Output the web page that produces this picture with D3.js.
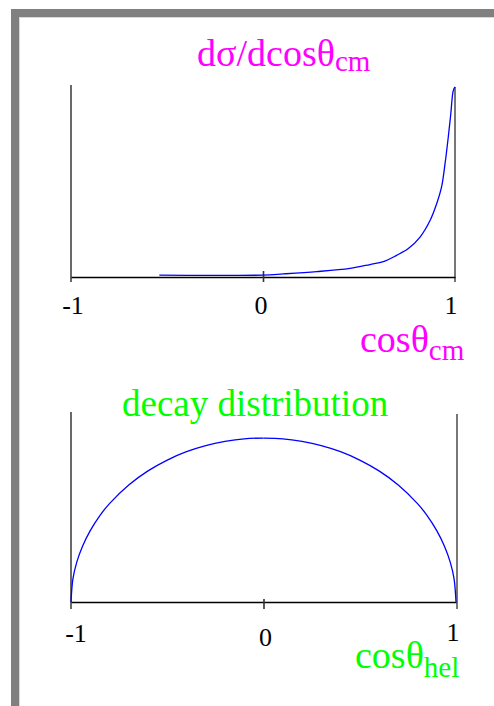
<!DOCTYPE html>
<html>
<head>
<meta charset="utf-8">
<script src="https://cdn.jsdelivr.net/npm/d3@7/dist/d3.min.js"></script>
<style>
  html, body { margin: 0; padding: 0; background: #fff; }
  svg { display: block; }
  text { font-family: "Liberation Serif", "Times New Roman", serif; }
</style>
</head>
<body>
<svg id="chart" width="494" height="706"></svg>
<script>
// Production angular distribution dσ/dcosθ_cm (normalised to its peak)
const prodCos = [-0.54, -0.3, 0.0, 0.106, 0.28, 0.453, 0.557, 0.627, 0.696, 0.757, 0.818, 0.87, 0.904, 0.93, 0.948, 0.965, 0.978, 0.991, 1.0];
const prodVal = [0.010, 0.008, 0.010, 0.016, 0.028, 0.045, 0.065, 0.080, 0.113, 0.148, 0.208, 0.294, 0.380, 0.469, 0.589, 0.729, 0.849, 0.971, 0.990];

// Decay distribution in the helicity frame (two halves)
const decayCos = [-1.0, -0.99, -0.97, -0.94, -0.9, -0.85, -0.8, -0.7, -0.6, -0.5, -0.4, -0.3, -0.2, -0.1, 0.0];
const decayVal = [0.000, 0.122, 0.210, 0.294, 0.376, 0.455, 0.518, 0.616, 0.690, 0.747, 0.791, 0.823, 0.845, 0.859, 0.863];
const decayCos2 = [0.0, 0.1, 0.2, 0.3, 0.4, 0.5, 0.6, 0.7, 0.8, 0.85, 0.9, 0.94, 0.97, 0.99, 1.0];
const decayVal2 = [0.863, 0.859, 0.845, 0.823, 0.791, 0.747, 0.690, 0.616, 0.518, 0.455, 0.376, 0.294, 0.210, 0.122, 0.000];

const tickValues = [-1, 0, 1];
const tickLabels = ["-1", "0", "1"];

const svg = d3.select("#chart");

// frame
svg.append("rect").attr("x", 11).attr("y", 9).attr("width", 483).attr("height", 8).attr("fill", "#808080");
svg.append("rect").attr("x", 11).attr("y", 9).attr("width", 8).attr("height", 697).attr("fill", "#808080");
svg.append("rect").attr("x", 19).attr("y", 17).attr("width", 1).attr("height", 689).attr("fill", "#d8d8d8");
svg.append("rect").attr("x", 19).attr("y", 17).attr("width", 475).attr("height", 1).attr("fill", "#d8d8d8");

function panel(opts) {
  const g = svg.append("g");
  const x = d3.scaleLinear().domain([-1, 1]).range([opts.x0, opts.x1]);
  const y = d3.scaleLinear().domain([0, 1]).range([opts.yBase, opts.yTop]);

  // vertical frame lines
  g.append("line").attr("x1", opts.x0).attr("x2", opts.x0)
    .attr("y1", opts.leftTop).attr("y2", opts.yBase + opts.below)
    .attr("stroke", "#444").attr("stroke-width", 1.6);
  g.append("line").attr("x1", opts.x1Axis).attr("x2", opts.x1Axis)
    .attr("y1", opts.rightTop).attr("y2", opts.yBase + opts.below)
    .attr("stroke", "#555").attr("stroke-width", 1.6);

  // horizontal axis with a centre tick
  const axis = d3.axisBottom(x).tickValues([0]).tickSizeInner(0).tickSizeOuter(0).tickFormat("");
  const ag = g.append("g").attr("transform", `translate(0,${opts.yBase})`).call(axis);
  ag.select(".domain").attr("stroke", "#000").attr("stroke-width", 1.6);
  ag.selectAll(".tick line").attr("y1", opts.tickUp).attr("y2", opts.tickDown)
    .attr("stroke", "#333").attr("stroke-width", 1.6);

  // tick labels
  g.selectAll("text.tl").data(tickValues).join("text")
    .attr("class", "tl")
    .attr("x", (d, i) => x(d) + opts.labelDx[i])
    .attr("y", (d, i) => opts.labelY[i])
    .attr("text-anchor", "middle")
    .attr("font-size", 26)
    .attr("fill", "#000")
    .text((d, i) => tickLabels[i]);

  return { g, x, y };
}

// ---- top panel: production ----
const p1 = panel({
  x0: 71, x1: 455, x1Axis: 455, yBase: 277, yTop: 85,
  leftTop: 85, rightTop: 87, below: 5, tickUp: -6, tickDown: 5,
  labelDx: [2, -2, -4], labelY: [314, 314, 314]
});
const line1 = d3.line().x(d => p1.x(d[0])).y(d => p1.y(d[1])).curve(d3.curveCatmullRom.alpha(0.5));
p1.g.append("path")
  .datum(prodCos.map((c, i) => [c, prodVal[i]]))
  .attr("d", line1).attr("fill", "none").attr("stroke", "#0000ff").attr("stroke-width", 1.3);

const t1 = svg.append("text").attr("x", 197).attr("y", 66).attr("font-size", 38).attr("fill", "#ff00ff");
t1.append("tspan").text("dσ/dcosθ");
t1.append("tspan").attr("font-size", 29).attr("dy", 5).text("cm");

const xl1 = svg.append("text").attr("x", 360).attr("y", 352).attr("font-size", 38).attr("fill", "#ff00ff");
xl1.append("tspan").text("cosθ");
xl1.append("tspan").attr("font-size", 29).attr("dy", 8).text("cm");

// ---- bottom panel: decay ----
const p2 = panel({
  x0: 71, x1: 456, x1Axis: 457, yBase: 602, yTop: 412,
  leftTop: 412, rightTop: 414, below: 7, tickUp: -3, tickDown: 7,
  labelDx: [5, 2, -3], labelY: [642, 646, 641]
});
const line2 = d3.line().x(d => p2.x(d[0])).y(d => p2.y(d[1])).curve(d3.curveCatmullRom);
[[decayCos, decayVal], [decayCos2, decayVal2]].forEach(([cs, vs]) => {
  p2.g.append("path")
    .datum(cs.map((c, i) => [c, vs[i]]))
    .attr("d", line2).attr("fill", "none").attr("stroke", "#0000ff").attr("stroke-width", 1.3);
});

svg.append("text").attr("x", 122).attr("y", 416).attr("font-size", 37).attr("fill", "#00ff00")
  .text("decay distribution");

const xl2 = svg.append("text").attr("x", 355).attr("y", 668).attr("font-size", 38).attr("fill", "#00ff00");
xl2.append("tspan").text("cosθ");
xl2.append("tspan").attr("font-size", 29).attr("dy", 9).text("hel");
</script>
</body>
</html>
